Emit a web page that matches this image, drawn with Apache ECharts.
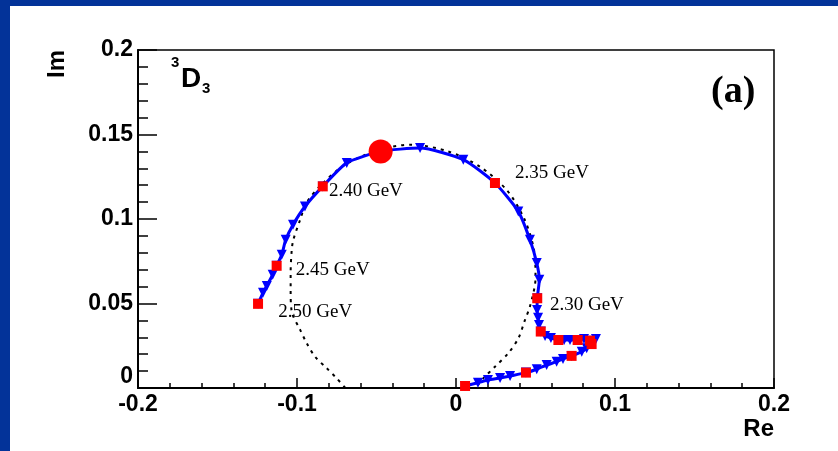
<!DOCTYPE html>
<html>
<head>
<meta charset="utf-8">
<script src="https://cdn.jsdelivr.net/npm/echarts@6/dist/echarts.min.js"></script>
<style>
  html, body { margin: 0; padding: 0; width: 838px; height: 451px; background: #033399; overflow: hidden; }
  #chart { position: absolute; left: 10px; top: 6px; width: 828px; height: 445px; background: #fff; }
</style>
</head>
<body>
<div id="chart"></div>
<script>
// amplitude curve (blue line with triangles), from threshold up to 2.50 GeV
const curveRe = [0.0057, 0.0138, 0.0201, 0.0277, 0.034, 0.044, 0.0508, 0.057, 0.0633, 0.0673, 0.0727, 0.0791, 0.0822, 0.0853, 0.088,
  0.0843, 0.0805, 0.0765, 0.0717, 0.068, 0.0644, 0.0597, 0.056, 0.0533, 0.0522, 0.0516, 0.051, 0.0511,
  0.0524, 0.0508, 0.0465, 0.0392, 0.0245, 0.0046, -0.0226, -0.0474, -0.0687, -0.0838,
  -0.095, -0.1025, -0.1071, -0.1096, -0.1128, -0.1153, -0.119, -0.1214, -0.1245]
const curveIm = [0.0012, 0.0031, 0.0047, 0.0059, 0.0071, 0.0091, 0.0111, 0.0136, 0.0156, 0.0172, 0.019, 0.0215, 0.0235, 0.026, 0.029,
  0.028, 0.029, 0.0284, 0.0284, 0.0284, 0.0284, 0.0296, 0.0308, 0.0334, 0.0373, 0.0415, 0.0462, 0.0531,
  0.064, 0.0739, 0.0877, 0.1045, 0.1213, 0.1351, 0.142, 0.14, 0.1332, 0.1193,
  0.1074, 0.0966, 0.0877, 0.0788, 0.0723, 0.067, 0.0604, 0.0563, 0.0498]

// red squares (energy steps)
const squareRe = [0.0057, 0.044, 0.0727, 0.0853, 0.0843, 0.0765, 0.0644, 0.0533, 0.0511, 0.0245, -0.0838, -0.1128, -0.1245]
const squareIm = [0.0012, 0.0091, 0.019, 0.026, 0.028, 0.0284, 0.0284, 0.0334, 0.0531, 0.1213, 0.1193, 0.0723, 0.0498]

// big red dot
const poleRe = [-0.0474]
const poleIm = [0.14]

// dotted circle
const circleRe = [-0.0696, -0.075, -0.0813, -0.0887, -0.0939, -0.098, -0.1033, -0.104, -0.104, -0.1033, -0.1023, -0.098, -0.094,
  -0.085, -0.07, -0.048, -0.028, -0.005, 0.015, 0.032, 0.043, 0.049, 0.05,
  0.0465, 0.0434, 0.0392, 0.0329, 0.0245, 0.0172, 0.013]
const circleIm = [0, 0.0057, 0.0117, 0.0186, 0.0265, 0.0344, 0.0452, 0.058, 0.068, 0.0818, 0.0877, 0.0996, 0.1096,
  0.12, 0.132, 0.141, 0.144, 0.14, 0.131, 0.117, 0.1, 0.082, 0.065,
  0.0482, 0.0403, 0.0294, 0.0206, 0.0126, 0.0057, 0.0008]

// energy annotations
const gevText = ['2.30 GeV', '2.35 GeV', '2.40 GeV', '2.45 GeV', '2.50 GeV']
const gevRe = [0.0591, 0.0371, -0.0799, -0.1008, -0.1118]
const gevIm = [0.0492, 0.1274, 0.1163, 0.0699, 0.0452]

const xTicks = [-0.2, -0.1, 0, 0.1, 0.2]
const yTicks = [0, 0.05, 0.1, 0.15, 0.2]

const zip = (a, b) => a.map((v, i) => [v, b[i]])

const chart = echarts.init(document.getElementById('chart'))

const axisFont = { fontFamily: 'Liberation Sans', fontWeight: 'bold', fontSize: 23, color: '#000' }

const option = {
  animation: false,
  backgroundColor: '#fff',
  grid: {
    left: 128, top: 44, right: 64, bottom: 63,
    show: true, borderColor: '#000', borderWidth: 1.5, backgroundColor: 'transparent'
  },
  xAxis: {
    type: 'value',
    min: xTicks[0], max: xTicks[xTicks.length - 1], interval: 0.1,
    axisLine: { onZero: false, lineStyle: { color: '#000', width: 2 } },
    axisTick: { inside: true, length: 10, lineStyle: { color: '#000', width: 1.5 } },
    minorTick: { show: true, splitNumber: 5, length: 5, lineStyle: { color: '#000', width: 1.5 } },
    splitLine: { show: false },
    axisLabel: Object.assign({ margin: 5 }, axisFont)
  },
  yAxis: {
    type: 'value',
    min: yTicks[0], max: yTicks[yTicks.length - 1], interval: 0.05,
    axisLine: { onZero: false, lineStyle: { color: '#000', width: 2 } },
    axisTick: { inside: true, length: 19, lineStyle: { color: '#000', width: 1.5 } },
    minorTick: { show: true, splitNumber: 5, length: 10, lineStyle: { color: '#000', width: 1.5 } },
    splitLine: { show: false },
    axisLabel: Object.assign({ margin: 5, verticalAlignMinLabel: 'bottom' }, axisFont)
  },
  graphic: [
    { type: 'text', x: 47, y: 44, rotation: Math.PI / 2,
      style: { text: 'Im', align: 'right', verticalAlign: 'middle', font: 'bold 24px "Liberation Sans"', fill: '#000' } },
    { type: 'text', x: 764, y: 423,
      style: { text: 'Re', align: 'right', verticalAlign: 'middle', font: 'bold 24px "Liberation Sans"', fill: '#000' } },
    { type: 'text', x: 161, y: 57,
      style: { text: '3', align: 'left', verticalAlign: 'middle', font: 'bold 15px "Liberation Sans"', fill: '#000' } },
    { type: 'text', x: 171, y: 73,
      style: { text: 'D', align: 'left', verticalAlign: 'middle', font: 'bold 28px "Liberation Sans"', fill: '#000' } },
    { type: 'text', x: 192, y: 83,
      style: { text: '3', align: 'left', verticalAlign: 'middle', font: 'bold 15px "Liberation Sans"', fill: '#000' } },
    { type: 'text', x: 701, y: 86,
      style: { text: '(a)', align: 'left', verticalAlign: 'middle', font: 'bold 38px "Liberation Serif"', fill: '#000' } }
  ],
  series: [
    {
      name: 'circle',
      type: 'line',
      data: zip(circleRe, circleIm),
      showSymbol: false,
      smooth: 0.3,
      z: 1,
      lineStyle: { color: '#000', width: 2, type: [3, 5] }
    },
    {
      name: 'amplitude',
      type: 'line',
      data: zip(curveRe, curveIm),
      symbol: 'triangle',
      symbolRotate: 180,
      symbolSize: 10,
      showSymbol: true,
      smooth: 0.2,
      z: 2,
      itemStyle: { color: '#0000ff', opacity: 1 },
      lineStyle: { color: '#0000ff', width: 3 }
    },
    {
      name: 'steps',
      type: 'scatter',
      data: zip(squareRe, squareIm),
      symbol: 'rect',
      symbolSize: 10,
      z: 3,
      itemStyle: { color: '#ff0000', opacity: 1 }
    },
    {
      name: 'pole',
      type: 'scatter',
      data: zip(poleRe, poleIm),
      symbol: 'circle',
      symbolSize: 24,
      z: 4,
      itemStyle: { color: '#ff0000', opacity: 1 }
    },
    {
      name: 'energies',
      type: 'scatter',
      data: gevText.map((t, i) => ({ value: [gevRe[i], gevIm[i]], name: t })),
      symbolSize: 0,
      z: 5,
      itemStyle: { opacity: 1 },
      label: {
        show: true,
        position: 'right',
        distance: 0,
        formatter: p => p.name,
        fontFamily: 'Liberation Serif',
        fontSize: 19,
        color: '#000',
        opacity: 1
      }
    }
  ]
}

chart.setOption(option)
</script>
</body>
</html>
